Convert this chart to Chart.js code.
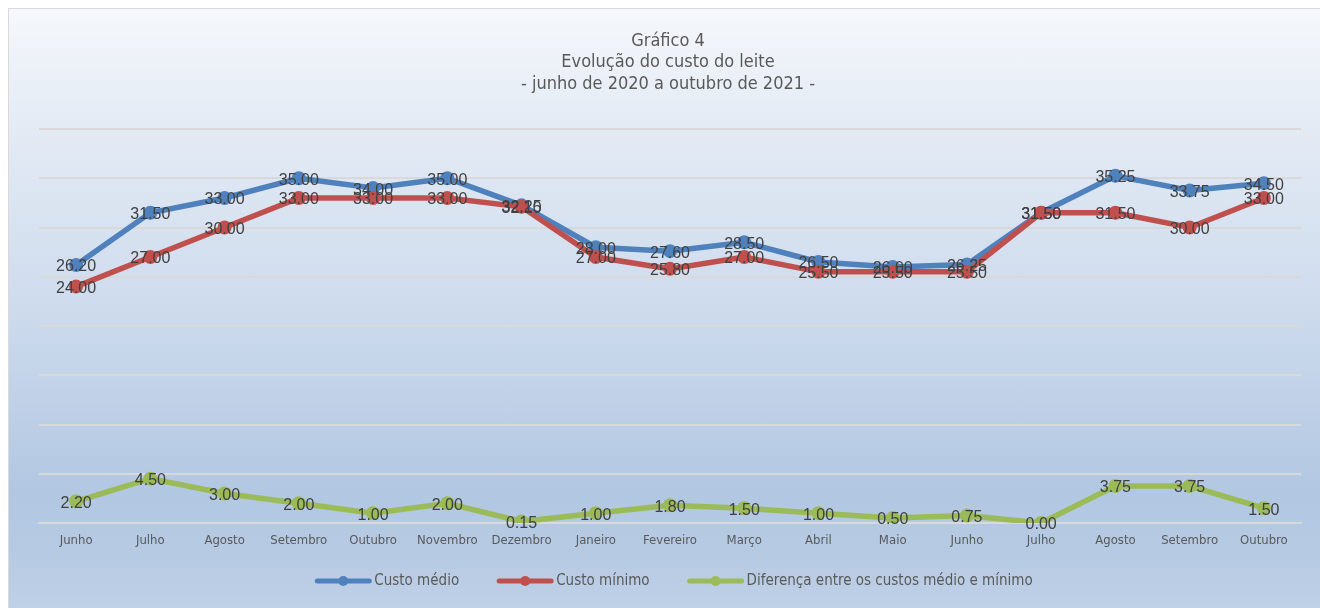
<!DOCTYPE html>
<html>
<head>
<meta charset="utf-8">
<script src="https://cdn.jsdelivr.net/npm/chart.js@4.4.1/dist/chart.umd.min.js"></script>
<style>
  html, body { margin: 0; padding: 0; background: #fff; overflow: hidden; }
  #frame {
    position: absolute; left: 8px; top: 8px; width: 1330px; height: 620px;
    border: 1px solid #d9d9d9;
    background: linear-gradient(to bottom, #f5f8fc 0%, #e3eaf4 20%, #d0ddee 45%, #b2c7e2 78%, #b6cae3 88%, #c2d3e8 100%);
  }
  #wrap { position: absolute; left: 0; top: 0; width: 1320px; height: 608px; }
</style>
</head>
<body>
<div id="frame"></div>
<div id="wrap"><canvas id="chart"></canvas></div>
<script>
const months = ['Junho', 'Julho', 'Agosto', 'Setembro', 'Outubro', 'Novembro', 'Dezembro', 'Janeiro',
  'Fevereiro', 'Março', 'Abril', 'Maio', 'Junho', 'Julho', 'Agosto', 'Setembro', 'Outubro'];
const custoMedio = [26.20, 31.50, 33.00, 35.00, 34.00, 35.00, 32.25, 28.00, 27.60, 28.50, 26.50, 26.00, 26.25, 31.50, 35.25, 33.75, 34.50];
const custoMinimo = [24.00, 27.00, 30.00, 33.00, 33.00, 33.00, 32.10, 27.00, 25.80, 27.00, 25.50, 25.50, 25.50, 31.50, 31.50, 30.00, 33.00];
const diferenca = [2.20, 4.50, 3.00, 2.00, 1.00, 2.00, 0.15, 1.00, 1.80, 1.50, 1.00, 0.50, 0.75, 0.00, 3.75, 3.75, 1.50];
const titleLines = ['Gráfico 4', 'Evolução do custo do leite', '- junho de 2020 a outubro de 2021 -'];
const seriesNames = ['Custo médio', 'Custo mínimo', 'Diferença entre os custos médio e mínimo'];
const colors = ['#4f81bd', '#c0504d', '#9bbb59'];

const NARROW = "'Liberation Sans Narrow', 'Arial Narrow', 'DejaVu Sans Condensed', sans-serif";
const TEXT = '#595959';

// value labels centred on each point, drawn after every series
const valueLabels = {
  id: 'valueLabels',
  afterDatasetsDraw(chart) {
    const ctx = chart.ctx;
    ctx.save();
    ctx.font = "16px 'Liberation Sans', Arial, sans-serif";
    ctx.fillStyle = '#404040';
    ctx.textAlign = 'center';
    ctx.textBaseline = 'middle';
    chart.data.datasets.forEach((ds, i) => {
      chart.getDatasetMeta(i).data.forEach((pt, j) => {
        ctx.fillText(ds.data[j].toFixed(2), pt.x, pt.y + 2);
      });
    });
    ctx.restore();
  }
};

const titleAndLegend = {
  id: 'titleAndLegend',
  afterDraw(chart) {
    const ctx = chart.ctx;
    ctx.save();
    ctx.fillStyle = TEXT;
    ctx.textAlign = 'center';
    ctx.textBaseline = 'middle';
    ctx.font = '18px ' + NARROW;
    titleLines.forEach((t, i) => ctx.fillText(t, 668, 41 + i * 21.5));

    // legend: line with marker + label
    ctx.font = '15px ' + NARROW;
    const lineLen = 56, gap = 3, spacing = 38;
    const widths = seriesNames.map(n => ctx.measureText(n).width);
    const total = widths.reduce((a, w) => a + lineLen + gap + w, 0) + spacing * (seriesNames.length - 1);
    let x = 674 - total / 2;
    const y = 581;
    ctx.textAlign = 'left';
    seriesNames.forEach((n, i) => {
      ctx.strokeStyle = colors[i];
      ctx.lineWidth = 5;
      ctx.lineCap = 'round';
      ctx.beginPath();
      ctx.moveTo(x + 2, y);
      ctx.lineTo(x + lineLen - 2, y);
      ctx.stroke();
      ctx.fillStyle = colors[i];
      ctx.beginPath();
      ctx.arc(x + lineLen / 2, y, 5, 0, Math.PI * 2);
      ctx.fill();
      ctx.fillStyle = TEXT;
      ctx.fillText(n, x + lineLen + gap, y);
      x += lineLen + gap + widths[i] + spacing;
    });
    ctx.restore();
  }
};

function series(label, data, color, order) {
  return {
    label, data, order,
    borderColor: color,
    backgroundColor: color,
    borderWidth: 5.5,
    pointRadius: 7,
    pointHoverRadius: 7,
    pointBorderWidth: 0,
    tension: 0,
  };
}

new Chart(document.getElementById('chart'), {
  type: 'line',
  data: {
    labels: months,
    datasets: [
      series(seriesNames[0], custoMedio, colors[0], 3),
      series(seriesNames[1], custoMinimo, colors[1], 2),
      series(seriesNames[2], diferenca, colors[2], 1),
    ],
  },
  options: {
    responsive: true,
    maintainAspectRatio: false,
    animation: false,
    layout: { padding: { left: 39, right: 19, top: 129, bottom: 55 } },
    plugins: { legend: { display: false }, title: { display: false }, tooltip: { enabled: false } },
    scales: {
      x: {
        offset: true,
        grid: { display: false, drawTicks: false },
        border: { display: true, color: '#d9d9d9', width: 2 },
        ticks: { color: TEXT, font: { family: NARROW, size: 13 }, padding: 10, maxRotation: 0, autoSkip: false },
        afterFit(s) { s.height = 30; },
      },
      y: {
        min: 0, max: 40,
        ticks: { display: false, stepSize: 5 },
        grid: { color: '#d9d9d9', lineWidth: 2, drawTicks: false },
        border: { display: false },
        afterFit(s) { s.width = 0; },
      },
    },
  },
  plugins: [valueLabels, titleAndLegend],
});
</script>
</body>
</html>
